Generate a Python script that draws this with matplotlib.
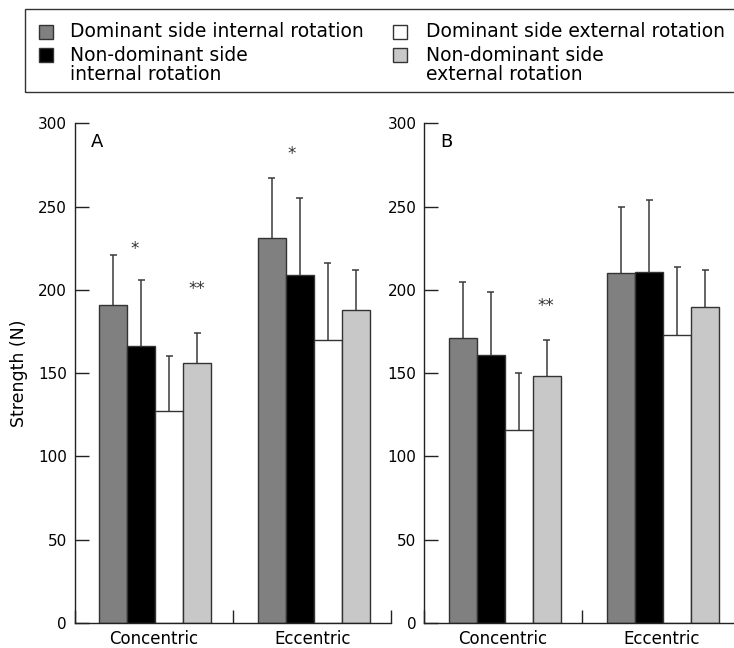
import matplotlib
matplotlib.use("Agg")
import matplotlib.pyplot as plt
from matplotlib.patches import Rectangle
import numpy as np

plt.rcParams['font.family'] = ['DejaVu Sans']

# ---------------- data ----------------
groups = ["Concentric", "Eccentric"]
series = ["Dominant side internal rotation",
          "Non-dominant side\ninternal rotation",
          "Dominant side external rotation",
          "Non-dominant side\nexternal rotation"]
colors = ["#808080", "#000000", "#ffffff", "#c8c8c8"]

# panel A means / SD (per series, per group)
a_means = [[191, 231], [166, 209], [127, 170], [156, 188]]
a_sd = [[30, 36], [40, 46], [33, 46], [18, 24]]
# panel B
b_means = [[171, 210], [161, 211], [116, 173], [148, 190]]
b_sd = [[34, 40], [38, 43], [34, 41], [22, 22]]

a_stars = [("*", 0.38, 226), ("**", 0.77, 202), ("*", 1.37, 283)]
b_stars = [("**", 0.77, 192)]

yticks = [0, 50, 100, 150, 200, 250, 300]
ylabel = "Strength (N)"
panel_labels = ["A", "B"]

# ---------------- figure ----------------
W, H = 734, 648
fig = plt.figure(figsize=(W / 100, H / 100), dpi=100)

def fx(px):
    return px / W

def fy(py):
    return 1 - py / H

ax_bottom = fy(623)
ax_h = (623 - 123.3) / H
ax_w = 316.6 / W
axA = fig.add_axes([fx(74.7), ax_bottom, ax_w, ax_h])
axB = fig.add_axes([fx(424), ax_bottom, ax_w, ax_h])

bw = 28 / 158.3
cap = 3.5 / 158.3
edge = "#333333"
ecol = "#3a3a3a"

def draw(ax, means, sds, stars, label, show_ylabel):
    x = np.arange(len(groups)) + 0.5 + 0.01
    for i in range(len(series)):
        xs = x + (i - 1.5) * bw
        m = np.array(means[i], dtype=float)
        s = np.array(sds[i], dtype=float)
        ax.bar(xs, m, width=bw, color=colors[i], edgecolor=edge,
               linewidth=1.0, zorder=2)
        ax.vlines(xs, m, m + s, colors=ecol, linewidth=1.1, zorder=1)
        ax.hlines(m + s, xs - cap, xs + cap, colors=ecol, linewidth=1.1,
                  zorder=1)
    for st, sx, sy in stars:
        ax.text(sx, sy - 4.5, st, ha="center", va="baseline", fontsize=12,
                color="#333333")
    ax.text(0.1, 289, label, ha="left", va="center", fontsize=13)
    ax.set_xlim(0, 2)
    ax.set_ylim(0, 300)
    ax.spines["top"].set_visible(False)
    ax.spines["right"].set_visible(False)
    for sp in ("left", "bottom"):
        ax.spines[sp].set_linewidth(1.0)
        ax.spines[sp].set_color("#222222")
    ax.set_yticks(yticks)
    ax.tick_params(axis="y", direction="in", length=10, width=1.0,
                   pad=5.5, labelsize=11, color="#222222")
    ax.set_xticks([0, 1, 2])
    ax.set_xticklabels([])
    ax.tick_params(axis="x", which="major", direction="in", length=9.5,
                   width=1.0, color="#222222")
    ax.set_xticks(np.arange(len(groups)) + 0.5, minor=True)
    ax.set_xticklabels(groups, minor=True)
    ax.tick_params(axis="x", which="minor", length=0, pad=5, labelsize=12)
    if show_ylabel:
        ax.set_ylabel(ylabel, fontsize=12.5, labelpad=7)
    ax.patch.set_alpha(0)

draw(axA, a_means, a_sd, a_stars, panel_labels[0], True)
draw(axB, b_means, b_sd, b_stars, panel_labels[1], False)

# ---------------- legend ----------------
fig.add_artist(Rectangle((fx(24.5), fy(91.5)), fx(760 - 24.5), 82.2 / H,
                         transform=fig.transFigure, facecolor="none",
                         edgecolor="#333333", linewidth=1.0))
col_marker = [39, 393]
col_text = [70, 426]
row_top = [25, 48]
row_base = [36.7, 60.7]
msz = 13.5
for k, lab in enumerate(series):
    c = k // 2
    r = k % 2
    fig.add_artist(Rectangle((fx(col_marker[c]), fy(row_top[r] + msz)),
                             msz / W, msz / H, transform=fig.transFigure,
                             facecolor=colors[k], edgecolor="#333333",
                             linewidth=1.0))
    for j, line in enumerate(lab.split("\n")):
        fig.text(fx(col_text[c]), fy(row_base[r] + j * 19.8), line,
                 ha="left", va="baseline", fontsize=13.5)

fig.savefig("out.png", dpi=100)
